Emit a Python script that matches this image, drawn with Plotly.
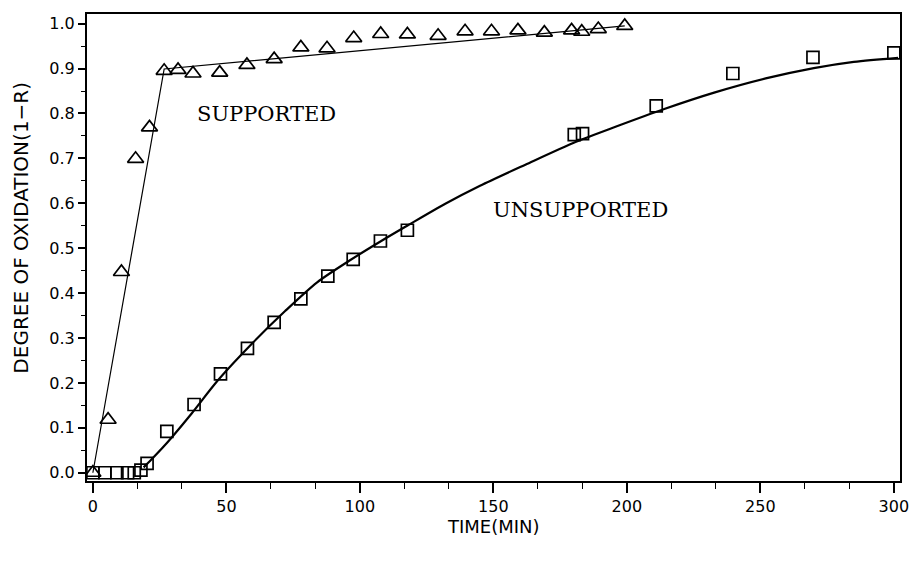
import plotly.graph_objects as go

# Supported (triangles)
sup_t = [0, 5.7, 10.7, 16.0, 21.2, 26.7, 31.9, 37.5, 47.5, 57.7, 67.9, 77.9, 87.7, 97.7,
         107.8, 117.8, 129.3, 139.4, 149.3, 159.2, 169.1, 179.3, 183.1, 189.3, 199.2]
sup_y = [0.0, 0.118, 0.447, 0.699, 0.769, 0.895, 0.897, 0.889, 0.891, 0.908, 0.921, 0.947, 0.945, 0.968,
         0.977, 0.976, 0.973, 0.983, 0.983, 0.985, 0.980, 0.985, 0.982, 0.988, 0.995]
sup_fit_t = [0, 26.7, 199.2]
sup_fit_y = [0.0, 0.899, 0.995]

# Unsupported (squares)
uns_t = [0, 4.5, 9, 13, 15.5, 18, 20.3, 27.7, 37.9, 47.8, 57.9, 67.9, 77.9, 88.0, 97.5,
         107.7, 117.8, 180.3, 183.4, 211.0, 239.7, 269.7, 300.0]
uns_y = [0.0, 0.0, 0.0, 0.0, 0.0, 0.006, 0.021, 0.092, 0.152, 0.220, 0.277, 0.335, 0.387, 0.438, 0.475,
         0.516, 0.540, 0.753, 0.755, 0.817, 0.889, 0.925, 0.935]
uns_fit_t = [19, 22, 26, 30, 37, 47, 60, 72, 84, 96, 108, 118, 132, 145, 162, 181,
             196, 214, 233, 252, 270, 285, 301.6]
uns_fit_y = [0.012, 0.030, 0.055, 0.082, 0.132, 0.207, 0.290, 0.360, 0.424, 0.472, 0.516, 0.551, 0.599,
             0.639, 0.686, 0.737, 0.771, 0.810, 0.847, 0.878, 0.901, 0.915, 0.924]

fig = go.Figure()
fig.add_trace(go.Scatter(x=sup_fit_t, y=sup_fit_y, mode="lines",
                         line=dict(color="black", width=1.2), hoverinfo="skip"))
fig.add_trace(go.Scatter(x=uns_fit_t, y=uns_fit_y, mode="lines", line_shape="spline",
                         line=dict(color="black", width=2.2, smoothing=0.8), hoverinfo="skip"))
fig.add_trace(go.Scatter(x=sup_t, y=sup_y, mode="markers",
                         marker=dict(symbol="triangle-up-open", size=14, color="black",
                                     line=dict(width=1.7, color="black"))))
fig.add_trace(go.Scatter(x=uns_t, y=uns_y, mode="markers",
                         marker=dict(symbol="square-open", size=12, color="black",
                                     line=dict(width=1.7, color="black"))))

fig.update_layout(
    width=921, height=567,
    margin=dict(l=87, r=14, t=12, b=86),
    paper_bgcolor="white", plot_bgcolor="white",
    showlegend=False,
    font=dict(family="DejaVu Sans", color="black", size=16),
)
fig.update_xaxes(
    range=[-2.2, 302.3], tickmode="array", tickvals=[0, 50, 100, 150, 200, 250, 300],
    showgrid=False, zeroline=False, showline=True, linecolor="black", linewidth=2, mirror=True,
    ticks="outside", ticklen=10, tickwidth=1.5, tickcolor="black",
    tickfont=dict(family="DejaVu Sans", size=16),
    minor=dict(dtick=50 / 3, tick0=0, ticks="outside", ticklen=6, tickwidth=1.2, tickcolor="black"),
)
fig.update_yaxes(
    range=[-0.0184, 1.0215], tickmode="array",
    tickvals=[0.0, 0.1, 0.2, 0.3, 0.4, 0.5, 0.6, 0.7, 0.8, 0.9, 1.0],
    ticktext=["0.0", "0.1", "0.2", "0.3", "0.4", "0.5", "0.6", "0.7", "0.8", "0.9", "1.0"],
    showgrid=False, zeroline=False, showline=True, linecolor="black", linewidth=2, mirror=True,
    ticks="outside", ticklen=7, tickwidth=1.5, tickcolor="black",
    tickfont=dict(family="DejaVu Sans", size=16),
    minor=dict(dtick=0.05, tick0=0, ticks="outside", ticklen=4, tickwidth=1.2, tickcolor="black"),
)

fig.add_annotation(x=65.2, y=0.798, text="SUPPORTED", showarrow=False,
                   font=dict(family="DejaVu Serif", size=21, color="black"))
fig.add_annotation(x=182.8, y=0.584, text="UNSUPPORTED", showarrow=False,
                   font=dict(family="DejaVu Serif", size=21, color="black"))
fig.add_annotation(xref="paper", yref="paper", x=-0.0817, y=0.5416, text="DEGREE OF OXIDATION(1\u2212R)",
                   showarrow=False, textangle=-90, xanchor="center", yanchor="middle",
                   font=dict(family="DejaVu Sans", size=20, color="black"))
fig.add_annotation(xref="paper", yref="paper", x=0.5, y=-0.0985, text="TIME(MIN)",
                   showarrow=False, xanchor="center", yanchor="middle",
                   font=dict(family="DejaVu Sans", size=18, color="black"))

fig.write_html("out.html")
